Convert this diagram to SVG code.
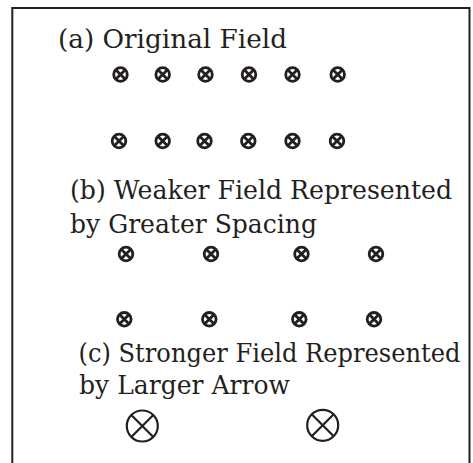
<svg xmlns="http://www.w3.org/2000/svg" width="473" height="463" viewBox="0 0 473 463">
<defs>
<style>
.lbl{font-family:"DejaVu Serif","Liberation Serif",serif;font-size:26px;fill:#231f20}
.frame{fill:none;stroke:#231f20;stroke-width:2}
.s{fill:none;stroke:#231f20;stroke-width:2.8}
.b{fill:none;stroke:#231f20;stroke-width:2.2}
</style>
<g id="sm"><circle class="s" r="6.8"/><path class="s" d="M-4.8,-4.8L4.8,4.8M-4.8,4.8L4.8,-4.8"/></g>
<g id="lg"><circle class="b" r="15.5"/><path class="b" d="M-11,-11L11,11M-11,11L11,-11"/></g>
</defs>
<rect width="473" height="463" fill="#fff"/>
<path class="frame" d="M12.3,463V8H469.5V463"/>
<g id="label-a"><text class="lbl" x="58" y="48" textLength="229" lengthAdjust="spacingAndGlyphs">(a) Original Field</text></g>
<g id="row-a1">
<use href="#sm" x="120.5" y="74.5"/><use href="#sm" x="162.7" y="74.5"/><use href="#sm" x="205.5" y="74.5"/><use href="#sm" x="249" y="74.5"/><use href="#sm" x="292.5" y="74.5"/><use href="#sm" x="337.7" y="74.5"/>
</g>
<g id="row-a2">
<use href="#sm" x="119" y="141"/><use href="#sm" x="162.7" y="141"/><use href="#sm" x="204.5" y="141"/><use href="#sm" x="248.3" y="141"/><use href="#sm" x="292.5" y="141"/><use href="#sm" x="337" y="141"/>
</g>
<g id="label-b"><text class="lbl" x="70" y="199.3" textLength="382" lengthAdjust="spacingAndGlyphs">(b) Weaker Field Represented</text><text class="lbl" x="70" y="232.8" textLength="247" lengthAdjust="spacingAndGlyphs">by Greater Spacing</text></g>
<g id="row-b1">
<use href="#sm" x="126" y="254"/><use href="#sm" x="211" y="254"/><use href="#sm" x="301.5" y="254"/><use href="#sm" x="376" y="254"/>
</g>
<g id="row-b2">
<use href="#sm" x="124.3" y="319.3"/><use href="#sm" x="209.3" y="319.3"/><use href="#sm" x="299.3" y="319.3"/><use href="#sm" x="374" y="319.3"/>
</g>
<g id="label-c"><text class="lbl" x="78.5" y="361.7" textLength="382" lengthAdjust="spacingAndGlyphs">(c) Stronger Field Represented</text><text class="lbl" x="79" y="394" textLength="211" lengthAdjust="spacingAndGlyphs">by Larger Arrow</text></g>
<g id="row-c">
<use href="#lg" x="142.3" y="426"/><use href="#lg" x="322.7" y="425.3"/>
</g>
</svg>
